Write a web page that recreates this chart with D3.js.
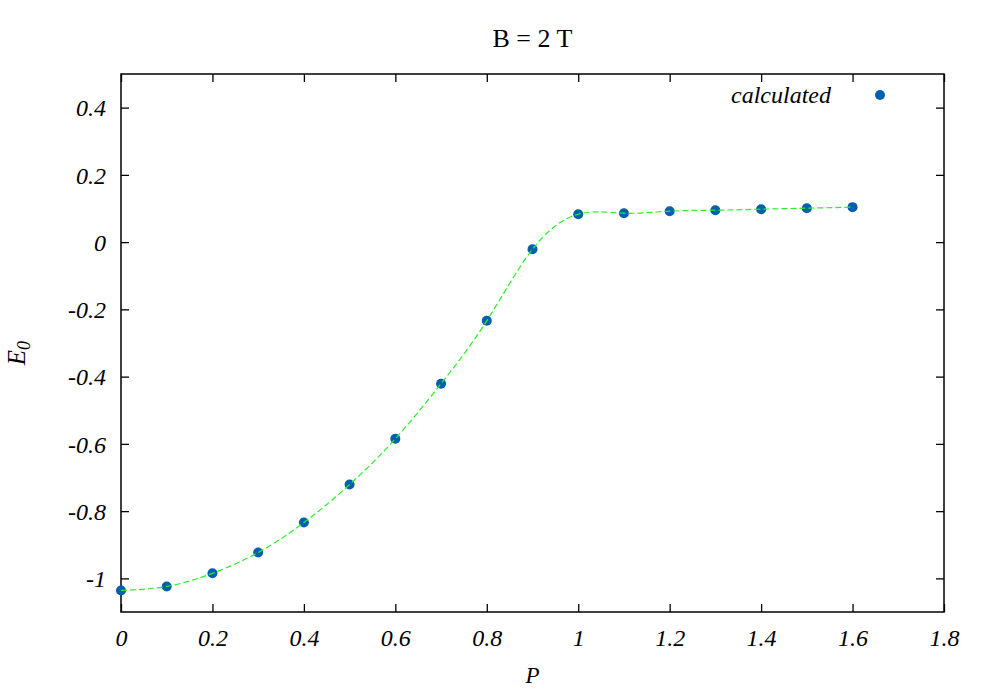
<!DOCTYPE html>
<html>
<head>
<meta charset="utf-8">
<script src="https://cdn.jsdelivr.net/npm/d3@7"></script>
<style>
  body { margin: 0; background: #fff; }
</style>
</head>
<body>
<div id="chart"></div>
<script>
// data
var pValues = [0, 0.1, 0.2, 0.3, 0.4, 0.5, 0.6, 0.7, 0.8, 0.9, 1.0, 1.1, 1.2, 1.3, 1.4, 1.5, 1.6];
var energyValues = [-1.036, -1.024, -0.985, -0.923, -0.834, -0.721, -0.585, -0.421, -0.234, -0.021,
                    0.083, 0.086, 0.092, 0.095, 0.098, 0.101, 0.104];
var xTicks = [0, 0.2, 0.4, 0.6, 0.8, 1, 1.2, 1.4, 1.6, 1.8];
var yTicks = [-1, -0.8, -0.6, -0.4, -0.2, 0, 0.2, 0.4];
var titleText = "B = 2 T";
var legendLabel = "calculated";

var attrs = {
    svgWidth: 989,
    svgHeight: 692,
    marginTop: 74,
    marginLeft: 121,
    marginRight: 45,
    marginBottom: 80,
    font: "'Liberation Serif', 'Times New Roman', serif",
    pointColor: '#0060ad',
    lineColor: '#2bf02b',
    pointRadius: 5,
    tickSize: 8
};

var calc = {};
calc.chartWidth = attrs.svgWidth - attrs.marginLeft - attrs.marginRight;
calc.chartHeight = attrs.svgHeight - attrs.marginTop - attrs.marginBottom;

var data = pValues.map((p, i) => ({ p: p, e: energyValues[i] }));

var x = d3.scaleLinear().domain([0, 1.8]).range([0, calc.chartWidth]);
var y = d3.scaleLinear().domain([-1.1, 0.5]).range([calc.chartHeight, 0]);

// plain hyphen for negatives, like gnuplot
var fmt = d => String(+d.toFixed(1));

var svg = d3.select('#chart').append('svg')
    .attr('width', attrs.svgWidth)
    .attr('height', attrs.svgHeight)
    .attr('font-family', attrs.font);

var chart = svg.append('g')
    .attr('transform', 'translate(' + attrs.marginLeft + ',' + attrs.marginTop + ')');

// title
svg.append('text')
    .attr('x', attrs.marginLeft + calc.chartWidth / 2)
    .attr('y', 47)
    .attr('text-anchor', 'middle')
    .attr('font-size', 26)
    .text(titleText);

// axes, ticks pointing inward, mirrored on top/right
var tickStyle = function (g) {
    g.attr('font-family', attrs.font);
    g.select('.domain').remove();
    g.selectAll('.tick line').attr('stroke', '#000').attr('stroke-width', 1.3);
    g.selectAll('.tick text').attr('font-size', 24).attr('font-style', 'italic').attr('fill', '#000');
};

chart.append('g')
    .attr('transform', 'translate(0,' + calc.chartHeight + ')')
    .call(d3.axisBottom(x).tickValues(xTicks).tickSize(-attrs.tickSize).tickPadding(0).tickFormat(fmt))
    .call(tickStyle)
    .call(g => g.selectAll('.tick text').attr('y', 34).attr('dy', null));

chart.append('g')
    .call(d3.axisTop(x).tickValues(xTicks).tickSize(-attrs.tickSize).tickFormat(''))
    .call(tickStyle);

chart.append('g')
    .call(d3.axisLeft(y).tickValues(yTicks).tickSize(-attrs.tickSize).tickPadding(14).tickFormat(fmt))
    .call(tickStyle)
    .call(g => g.selectAll('.tick text').attr('x', -15).attr('dy', '0.34em'));

chart.append('g')
    .attr('transform', 'translate(' + calc.chartWidth + ',0)')
    .call(d3.axisRight(y).tickValues(yTicks).tickSize(-attrs.tickSize).tickFormat(''))
    .call(tickStyle);

// frame
chart.append('rect')
    .attr('width', calc.chartWidth)
    .attr('height', calc.chartHeight)
    .attr('fill', 'none')
    .attr('stroke', '#000')
    .attr('stroke-width', 1.5);

// axis labels
svg.append('text')
    .attr('x', attrs.marginLeft + x(0.9))
    .attr('y', 683)
    .attr('text-anchor', 'middle')
    .attr('font-size', 23)
    .attr('font-style', 'italic')
    .text('P');

var yLabel = svg.append('text')
    .attr('transform', 'translate(25,' + (attrs.marginTop + y(-0.33)) + ') rotate(-90)')
    .attr('text-anchor', 'middle')
    .attr('font-size', 25)
    .attr('font-style', 'italic');
yLabel.append('tspan').text('E');
yLabel.append('tspan').attr('font-size', 18).attr('dy', 5).text('0');

// points
chart.selectAll('.point')
    .data(data)
    .enter().append('circle')
    .attr('class', 'point')
    .attr('cx', d => x(d.p))
    .attr('cy', d => y(d.e))
    .attr('r', attrs.pointRadius)
    .attr('fill', attrs.pointColor);

// smooth dashed curve over the points
var line = d3.line()
    .x(d => x(d.p))
    .y(d => y(d.e))
    .curve(d3.curveNatural);

chart.append('path')
    .datum(data)
    .attr('d', line)
    .attr('fill', 'none')
    .attr('stroke', attrs.lineColor)
    .attr('stroke-width', 1.2)
    .attr('stroke-dasharray', '6,3');

// legend
svg.append('text')
    .attr('x', 831)
    .attr('y', 103)
    .attr('text-anchor', 'end')
    .attr('font-size', 24)
    .attr('font-style', 'italic')
    .text(legendLabel);

svg.append('circle')
    .attr('cx', 880)
    .attr('cy', 95)
    .attr('r', attrs.pointRadius)
    .attr('fill', attrs.pointColor);
</script>
</body>
</html>
